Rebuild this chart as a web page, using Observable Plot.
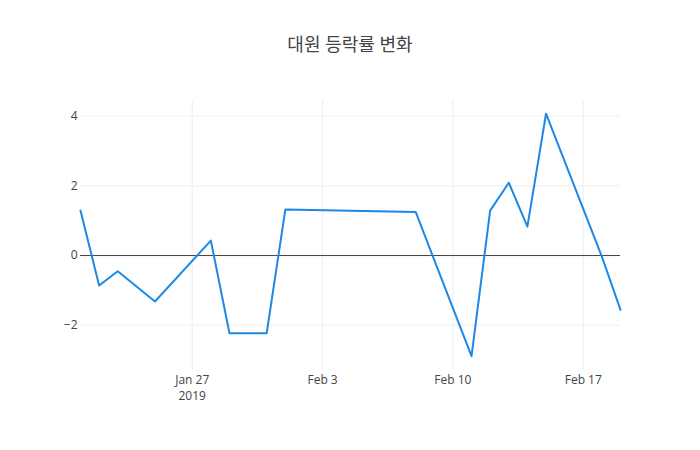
<!DOCTYPE html>
<html>
<head>
<meta charset="utf-8">
<script src="https://cdn.jsdelivr.net/npm/d3@7"></script>
<script src="https://cdn.jsdelivr.net/npm/@observablehq/plot@0.6"></script>
<style>
  html, body { margin: 0; padding: 0; background: #fff; }
  #wrap { width: 700px; height: 450px; position: relative; }
  #title { position: absolute; left: 0; top: 0; width: 700px; height: 80px; text-align: center;
           font-family: "Open Sans", "Noto Sans CJK KR", sans-serif; font-size: 18px; color: #444;
           line-height: 18px; padding-top: 35px; box-sizing: border-box; }
  #chart { position: absolute; left: 0; top: 80px; }
</style>
</head>
<body>
<div id="wrap">
  <div id="title">대원 등락률 변화</div>
  <div id="chart"></div>
</div>
<script>
const dates = ["2019-01-21","2019-01-22","2019-01-23","2019-01-25","2019-01-28","2019-01-29","2019-01-31",
               "2019-02-01","2019-02-08","2019-02-11","2019-02-12","2019-02-13","2019-02-14","2019-02-15",
               "2019-02-18","2019-02-19"];
const changes = [1.29, -0.86, -0.45, -1.32, 0.43, -2.23, -2.23,
                 1.32, 1.25, -2.89, 1.29, 2.09, 0.83, 4.07,
                 -0.03, -1.56];
const xTicks = ["2019-01-27","2019-02-03","2019-02-10","2019-02-17"];
const xTickLabels = ["Jan 27","Feb 3","Feb 10","Feb 17"];
const yearLabel = ["2019"];
const yTicks = [-2, 0, 2, 4];

const data = dates.map((d, i) => ({date: new Date(d + "T00:00:00Z"), value: changes[i]}));
const xTickDates = xTicks.map(d => new Date(d + "T00:00:00Z"));
const labelOf = new Map(xTickDates.map((d, i) => [+d, xTickLabels[i]]));

const chart = Plot.plot({
  width: 700,
  height: 370,
  marginTop: 20,
  marginBottom: 80,
  marginLeft: 80,
  marginRight: 80,
  style: {fontFamily: "'Open Sans', sans-serif", fontSize: "12px", color: "#444", background: "#fff"},
  x: {type: "utc", domain: [new Date("2019-01-21T00:00:00Z"), new Date("2019-02-19T00:00:00Z")]},
  y: {domain: [-3.30, 4.45]},
  marks: [
    Plot.gridX(xTickDates, {stroke: "#eee", strokeOpacity: 1, strokeWidth: 1}),
    Plot.gridY(yTicks.filter(v => v !== 0), {stroke: "#eee", strokeOpacity: 1, strokeWidth: 1}),
    Plot.axisX(xTickDates, {tickSize: 0, tickPadding: 5, tickFormat: d => labelOf.get(+d), fill: "#444", fontSize: 12, label: null}),
    Plot.axisX([xTickDates[0]], {tickSize: 0, tickPadding: 21, tickFormat: () => yearLabel[0], fill: "#444", fontSize: 12, label: null}),
    Plot.axisY(yTicks, {tickSize: 0, tickPadding: 3, tickFormat: v => v < 0 ? "\u2212" + Math.abs(v) : String(v), fill: "#444", fontSize: 12, label: null}),
    Plot.ruleY([0], {stroke: "#444", strokeWidth: 1}),
    Plot.line(data, {x: "date", y: "value", stroke: "#1e88e5", strokeWidth: 2})
  ]
});
document.getElementById("chart").appendChild(chart);
</script>
</body>
</html>
